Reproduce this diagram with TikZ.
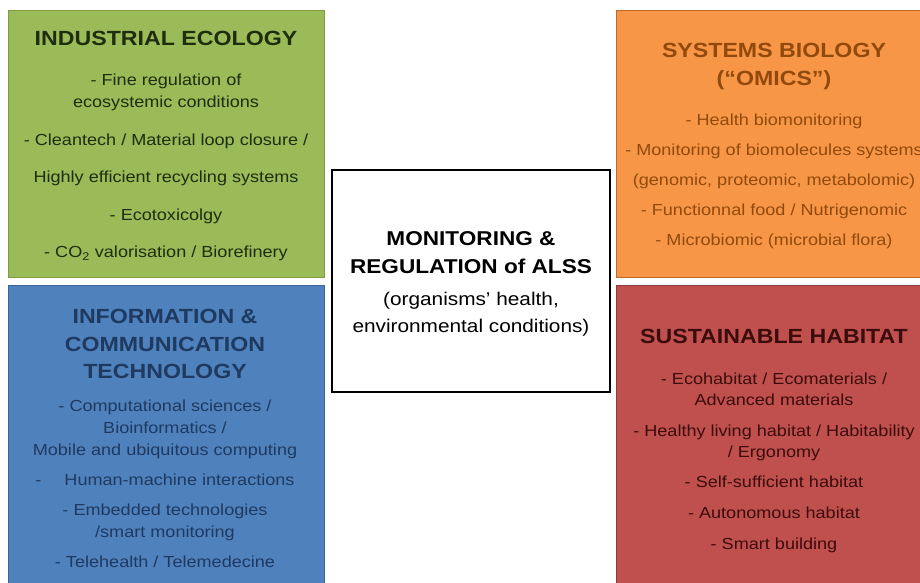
\documentclass[tikz,border=0pt]{standalone}
\usepackage{fontspec}
\setmainfont{Liberation Sans}[FakeStretch=1.13]

\definecolor{ecofill}{HTML}{9BBB59}
\definecolor{ecoline}{HTML}{7E9C46}
\definecolor{ecoink}{HTML}{1F2D0E}
\definecolor{omicsfill}{HTML}{F79646}
\definecolor{omicsline}{HTML}{B86B2E}
\definecolor{omicsink}{HTML}{914A0C}
\definecolor{ictfill}{HTML}{4F81BD}
\definecolor{ictline}{HTML}{3A659A}
\definecolor{ictink}{HTML}{1F3A60}
\definecolor{habfill}{HTML}{C0504D}
\definecolor{habline}{HTML}{8E3B39}
\definecolor{habink}{HTML}{3B0C0C}

\begin{document}
\begin{tikzpicture}[x=1pt, y=-1pt,
  panel/.style={anchor=north west, inner sep=0pt, line width=1.2pt, minimum width=316pt},
  head/.style={font=\fontsize{20.5}{27.5}\selectfont\bfseries, align=center, anchor=north, inner sep=0pt},
  items/.style={font=\fontsize{16}{22}\selectfont, align=center, anchor=north, inner sep=0pt}]
  \clip (0,0) rectangle (920,583);

  % the four fields
  \node[panel, draw=ecoline, fill=ecofill, minimum height=267pt] (eco) at (8,10) {};
  \node[panel, draw=omicsline, fill=omicsfill, minimum height=267pt] (omics) at (616,10) {};
  \node[panel, draw=ictline, fill=ictfill, minimum height=310pt] (ict) at (8,285) {};
  \node[panel, draw=habline, fill=habfill, minimum height=310pt] (hab) at (616,285) {};

  \node[head, text=ecoink] (ecohead) at (166,31) {INDUSTRIAL ECOLOGY};
  \node[items, text=ecoink] (ecoitems) at (166,74) {- Fine regulation of\\ ecosystemic conditions\\[15.5pt] - Cleantech / Material loop closure /\\[15.5pt] Highly efficient recycling systems\\[15.5pt] - Ecotoxicolgy\\[15.5pt] - CO\textsubscript{2} valorisation / Biorefinery};

  \node[head, text=omicsink] (omicshead) at (774,43) {SYSTEMS BIOLOGY\\ (“OMICS”)};
  \node[items, text=omicsink] (omicsitems) at (774,114) {- Health biomonitoring\\[8pt] - Monitoring of biomolecules systems\\[8pt] (genomic, proteomic, metabolomic)\\[8pt] - Functionnal food / Nutrigenomic\\[8pt] - Microbiomic (microbial flora)};

  \node[head, text=ictink] (icthead) at (165,309) {INFORMATION \&\\ COMMUNICATION\\ TECHNOLOGY};
  \node[items, font=\fontsize{16}{21.7}\selectfont, text=ictink] (ictitems) at (165,400) {- Computational sciences /\\ Bioinformatics /\\ Mobile and ubiquitous computing\\[8.5pt] -\hspace{23pt}Human-machine interactions\\[8.5pt] - Embedded technologies\\ /smart monitoring\\[8.5pt] - Telehealth / Telemedecine};

  \node[head, text=habink] (habhead) at (774,329) {SUSTAINABLE HABITAT};
  \node[items, font=\fontsize{16}{20.7}\selectfont, text=habink] (habitems) at (774,373) {- Ecohabitat / Ecomaterials /\\ Advanced materials\\[10.2pt] - Healthy living habitat / Habitability\\ / Ergonomy\\[10.2pt] - Self-sufficient habitat\\[10.2pt] - Autonomous habitat\\[10.2pt] - Smart building};

  % centre
  \node[draw, fill=white, line width=1.5pt, minimum width=278pt, minimum height=222pt] (core) at (471,281) {};
  \node[head, font=\fontsize{20}{28}\selectfont\bfseries] (corehead) at (471,231) {MONITORING \&\\ REGULATION of ALSS};
  \node[items, font=\fontsize{18.4}{27}\selectfont] (coreitems) at (471,292) {(organisms’ health,\\ environmental conditions)};
\end{tikzpicture}
\end{document}
